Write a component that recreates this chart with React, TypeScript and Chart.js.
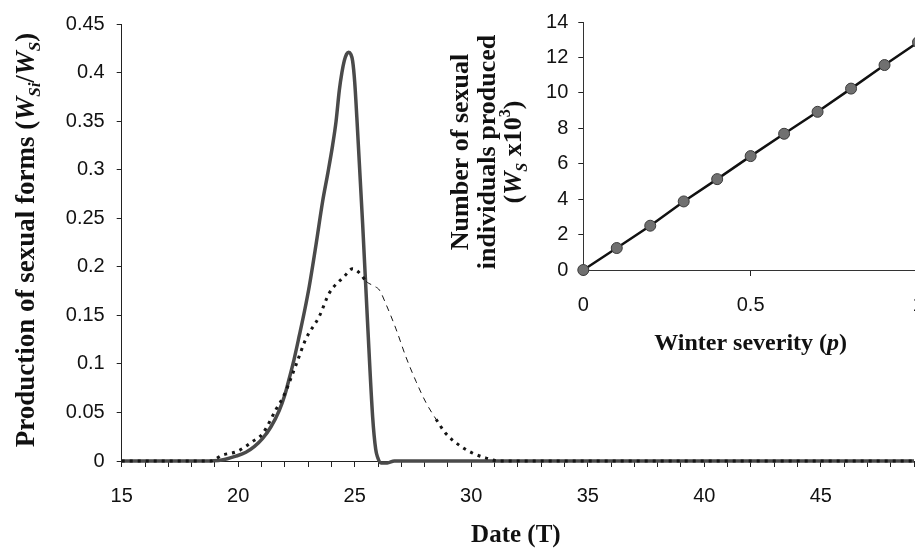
import React, { useEffect, useRef } from 'react';
import { Chart, registerables } from 'chart.js';

Chart.register(...registerables);

// ---- Main chart data (Date T vs production of sexual forms) ----
const solidDates = [15, 18.5, 19.3, 19.9, 20.33, 20.7, 21.04, 21.4, 21.76, 22.0, 22.19, 22.4, 22.62, 22.85, 23.05, 23.34, 23.62, 23.85, 24.05, 24.2, 24.34, 24.45, 24.55, 24.65, 24.74, 24.83, 24.91, 25.0, 25.12, 25.34, 25.55, 25.77, 25.9, 25.98, 26.13, 26.4, 26.7, 49];
const solidValues = [0, 0, 0.001, 0.005, 0.009, 0.015, 0.023, 0.035, 0.052, 0.068, 0.085, 0.105, 0.129, 0.155, 0.18, 0.223, 0.267, 0.297, 0.325, 0.35, 0.382, 0.4, 0.412, 0.419, 0.421, 0.419, 0.412, 0.39, 0.341, 0.244, 0.143, 0.045, 0.012, 0.004, -0.002, -0.002, 0, 0];

const dottedDates = [15, 18.8, 19.32, 19.97, 20.61, 21.04, 21.62, 21.97, 22.48, 22.91, 23.48, 23.91, 24.55, 24.91, 25.27, 25.49, 25.84, 26.06, 26.35, 26.77, 27.2, 27.63, 28.06, 28.49, 28.92, 29.5, 30.07, 30.64, 31.2, 49];
const dottedValues = [0, 0, 0.006, 0.01, 0.02, 0.028, 0.053, 0.068, 0.099, 0.126, 0.149, 0.173, 0.19, 0.198, 0.192, 0.185, 0.18, 0.176, 0.161, 0.136, 0.107, 0.082, 0.06, 0.043, 0.028, 0.016, 0.008, 0.003, 0, 0];

// ---- Inset data (winter severity vs number of sexual individuals, x10^3) ----
const severity = [0, 0.1, 0.2, 0.3, 0.4, 0.5, 0.6, 0.7, 0.8, 0.9, 1.0];
const sexualIndividuals = [0, 1.24, 2.5, 3.87, 5.13, 6.43, 7.69, 8.93, 10.24, 11.57, 12.86];

// ---- Axis settings ----
const mainXMin = 15;
const mainXMax = 49;
const mainXLabelEvery = 5;
const mainYMax = 0.45;
const mainYStep = 0.05;
const insetYMax = 14;
const insetYStep = 2;
const insetXStep = 0.5;

const SANS = '"Liberation Sans", Arial, sans-serif';
const SERIF = '"Liberation Serif", "Times New Roman", serif';

type Part = { t: string; i?: boolean; sub?: boolean; sup?: boolean };

function drawRich(ctx: CanvasRenderingContext2D, parts: Part[], cx: number, cy: number, size: number, rotate: boolean) {
  ctx.save();
  ctx.translate(cx, cy);
  if (rotate) ctx.rotate(-Math.PI / 2);
  const fontFor = (p: Part) => `${p.i ? 'italic ' : ''}bold ${p.sub || p.sup ? Math.round(size * 0.62) : size}px ${SERIF}`;
  let total = 0;
  const widths = parts.map((p) => {
    ctx.font = fontFor(p);
    const w = ctx.measureText(p.t).width;
    total += w;
    return w;
  });
  let x = -total / 2;
  ctx.textBaseline = 'alphabetic';
  ctx.textAlign = 'left';
  ctx.fillStyle = '#111';
  parts.forEach((p, k) => {
    ctx.font = fontFor(p);
    const dy = p.sub ? size * 0.22 : p.sup ? -size * 0.42 : 0;
    ctx.fillText(p.t, x, size * 0.35 + dy);
    x += widths[k];
  });
  ctx.restore();
}

const mainTitles = {
  id: 'mainTitles',
  afterDraw(chart: any) {
    const ctx = chart.ctx as CanvasRenderingContext2D;
    drawRich(ctx, [
      { t: 'Production of sexual forms (' },
      { t: 'W', i: true },
      { t: 'Si', i: true, sub: true },
      { t: '/' },
      { t: 'W', i: true },
      { t: 'S', i: true, sub: true },
      { t: ')' },
    ], 25, 240, 27, true);
    const a = chart.chartArea;
    drawRich(ctx, [{ t: 'Date (T)' }], (a.left + a.right) / 2 - 2, 533, 25, false);
  },
};

const insetTitles = {
  id: 'insetTitles',
  afterDraw(chart: any) {
    const ctx = chart.ctx as CanvasRenderingContext2D;
    const a = chart.chartArea;
    const cy = 152;
    drawRich(ctx, [{ t: 'Number of sexual' }], a.left - 124, cy, 26, true);
    drawRich(ctx, [{ t: 'individuals produced' }], a.left - 97, cy, 26, true);
    drawRich(ctx, [
      { t: '(' },
      { t: 'W', i: true },
      { t: 'S', i: true, sub: true },
      { t: ' x10' },
      { t: '3', sup: true },
      { t: ')' },
    ], a.left - 71, cy, 26, true);
    drawRich(ctx, [{ t: 'Winter severity (' }, { t: 'p', i: true }, { t: ')' }], (a.left + a.right) / 2, 342, 24, false);
  },
};

export default function App() {
  const mainRef = useRef<HTMLCanvasElement | null>(null);
  const insetRef = useRef<HTMLCanvasElement | null>(null);

  useEffect(() => {
    if (!mainRef.current || !insetRef.current) return;

    const axisGrid = (len: number) => ({
      display: true,
      drawOnChartArea: false,
      drawTicks: true,
      tickLength: len,
      color: '#222',
      lineWidth: 1,
    });

    const dashedPart = (c: any) => c.p0.parsed.x >= 25.3 && c.p0.parsed.x < 28.4;

    const main = new Chart(mainRef.current, {
      type: 'line',
      data: {
        datasets: [
          {
            label: 'dotted',
            data: dottedDates.map((x, k) => ({ x, y: dottedValues[k] })),
            borderColor: '#151515',
            borderWidth: 3,
            borderDash: [3, 5],
            pointRadius: 0,
            cubicInterpolationMode: 'monotone',
            clip: false,
            segment: {
              borderDash: (c: any) => (dashedPart(c) ? [6, 5] : [3, 5]),
              borderWidth: (c: any) => (dashedPart(c) ? 1 : 3),
            },
          } as any,
          {
            label: 'solid',
            data: solidDates.map((x, k) => ({ x, y: solidValues[k] })),
            borderColor: '#4a4a4a',
            borderWidth: 3.5,
            pointRadius: 0,
            cubicInterpolationMode: 'monotone',
            clip: false,
          } as any,
        ],
      },
      options: {
        responsive: false,
        animation: false,
        devicePixelRatio: 1,
        layout: { padding: { left: 0, right: 1, top: 15, bottom: 0 } },
        plugins: { legend: { display: false }, tooltip: { enabled: false }, title: { display: false } },
        scales: {
          x: {
            type: 'linear',
            min: mainXMin,
            max: mainXMax,
            ticks: {
              stepSize: 1,
              autoSkip: false,
              maxRotation: 0,
              padding: 17,
              color: '#111',
              font: { family: SANS, size: 20 },
              callback: (v: any) => (Number(v) % mainXLabelEvery === 0 ? String(v) : ''),
            },
            grid: axisGrid(6),
            border: { display: true, color: '#222', width: 1 },
            afterFit: (s: any) => { s.height = 89; s.paddingRight = 0; },
          },
          y: {
            type: 'linear',
            min: 0,
            max: mainYMax,
            ticks: {
              stepSize: mainYStep,
              padding: 12,
              color: '#111',
              font: { family: SANS, size: 20 },
              callback: (v: any) => String(Number(Number(v).toFixed(2))),
            },
            grid: axisGrid(5),
            border: { display: true, color: '#222', width: 1 },
            afterFit: (s: any) => { s.width = 121.7; },
          },
        },
      } as any,
      plugins: [mainTitles],
    });

    const inset = new Chart(insetRef.current, {
      type: 'line',
      data: {
        datasets: [
          {
            label: 'inset',
            data: severity.map((x, k) => ({ x, y: sexualIndividuals[k] })),
            borderColor: '#111',
            borderWidth: 2.5,
            pointRadius: 5.5,
            pointBackgroundColor: '#707070',
            pointBorderColor: '#3a3a3a',
            pointBorderWidth: 1,
            tension: 0,
            clip: false,
          } as any,
        ],
      },
      options: {
        responsive: false,
        animation: false,
        devicePixelRatio: 1,
        layout: { padding: { left: 0, right: 12, top: 18, bottom: 0 } },
        plugins: { legend: { display: false }, tooltip: { enabled: false }, title: { display: false } },
        scales: {
          x: {
            type: 'linear',
            min: 0,
            max: 1,
            ticks: {
              stepSize: insetXStep,
              autoSkip: false,
              maxRotation: 0,
              padding: 17,
              color: '#111',
              font: { family: SANS, size: 20 },
              callback: (v: any) => String(v),
            },
            grid: axisGrid(6),
            border: { display: true, color: '#333', width: 1 },
            afterFit: (s: any) => { s.height = 90; s.paddingRight = 0; },
          },
          y: {
            type: 'linear',
            min: 0,
            max: insetYMax,
            ticks: {
              stepSize: insetYStep,
              padding: 10,
              color: '#111',
              font: { family: SANS, size: 20 },
            },
            grid: axisGrid(5),
            border: { display: true, color: '#333', width: 1 },
            afterFit: (s: any) => { s.width = 143.3; },
          },
        },
      } as any,
      plugins: [insetTitles],
    });

    return () => {
      main.destroy();
      inset.destroy();
    };
  }, []);

  return (
    <div style={{ position: 'fixed', left: 0, top: 0, width: 915, height: 550, overflow: 'hidden', background: '#fff' }}>
      <canvas ref={mainRef} width={915} height={550} style={{ position: 'absolute', left: 0, top: 0, width: 915, height: 550 }} />
      <canvas ref={insetRef} width={490} height={360} style={{ position: 'absolute', left: 440, top: 0, width: 490, height: 360 }} />
    </div>
  );
}
